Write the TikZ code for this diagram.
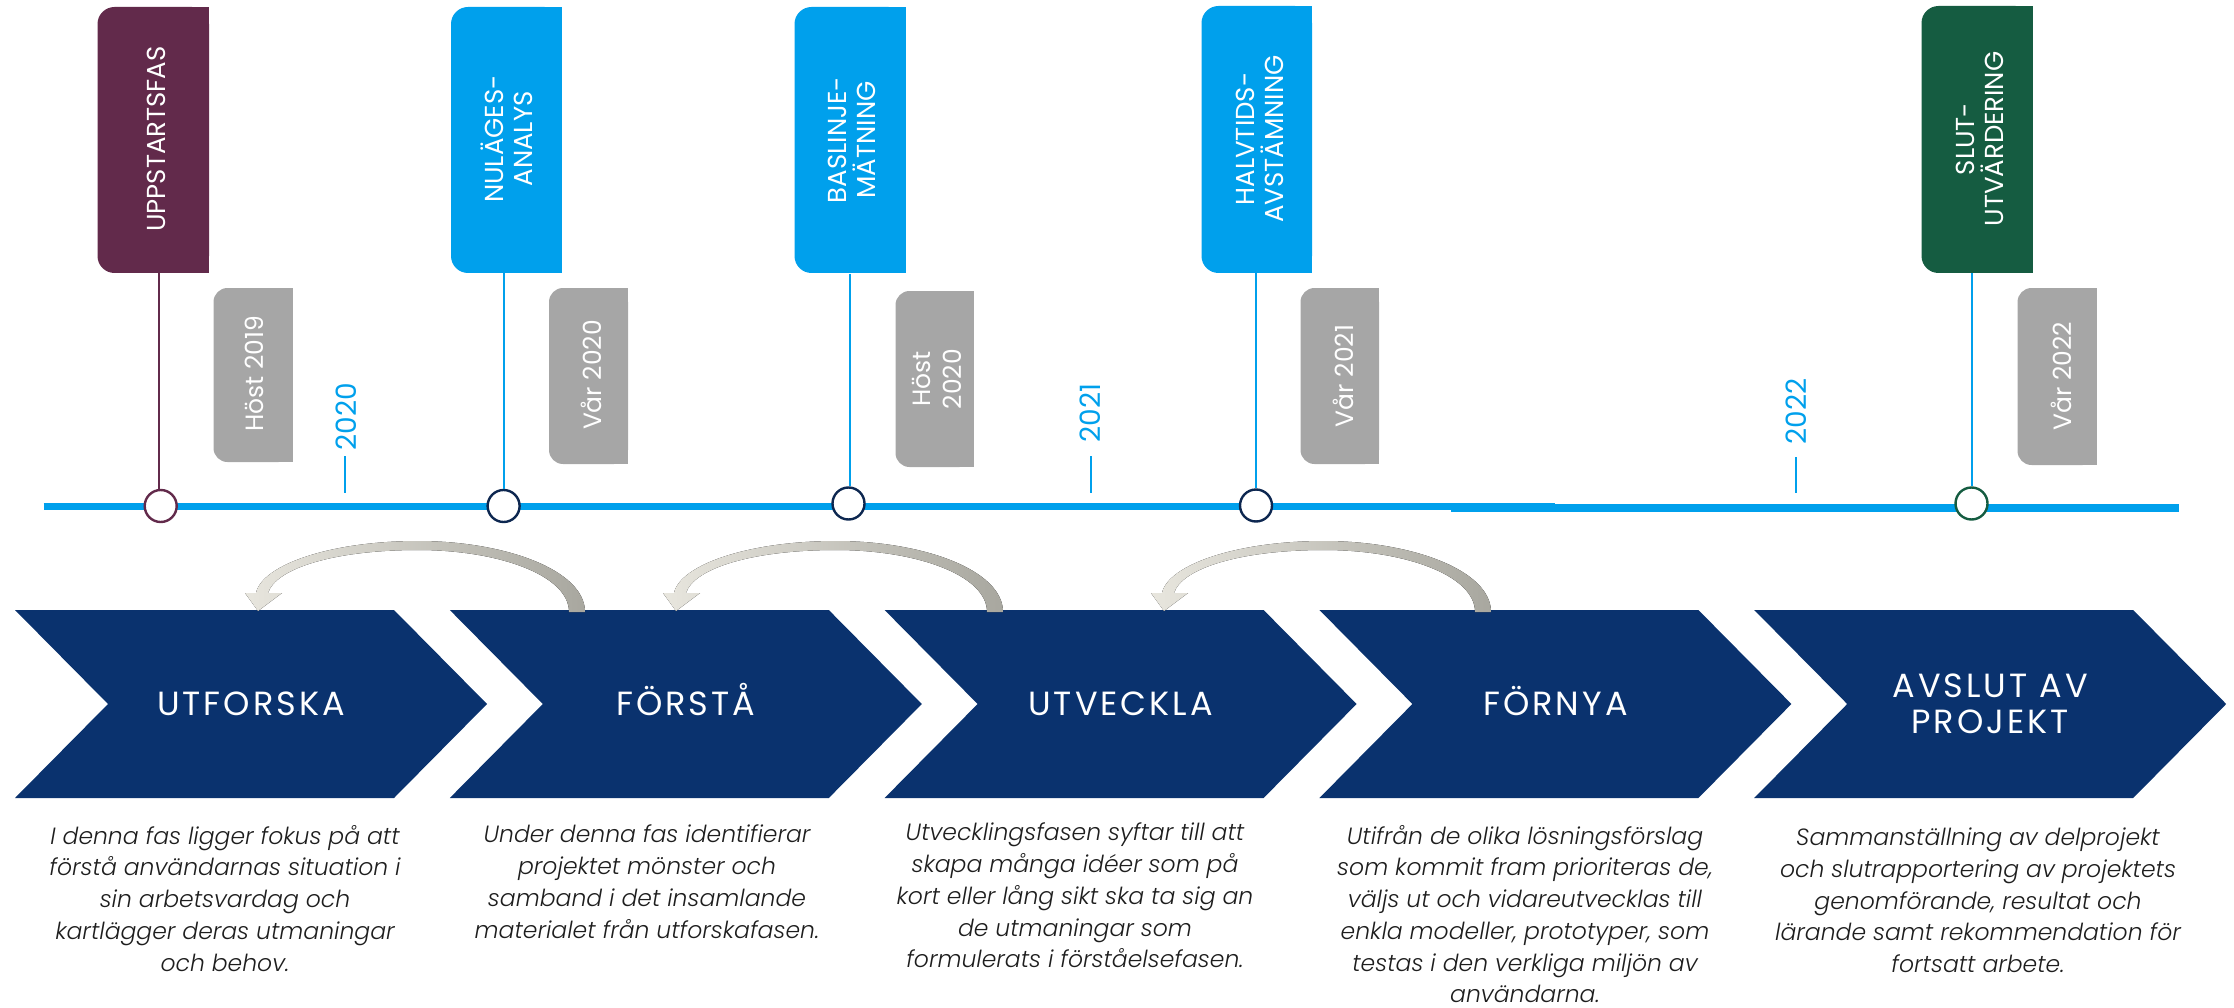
\documentclass[tikz,border=0pt]{standalone}
\usepackage{fontspec}
\setmainfont{Poppins}
\newfontfamily\phasefont{Poppins}[LetterSpace=9]
\newfontfamily\descfont{Poppins}[UprightFont=* Light, ItalicFont=* Light Italic]
\usetikzlibrary{calc}

\definecolor{plum}{HTML}{622A4B}
\definecolor{sky}{HTML}{00A0EC}
\definecolor{forest}{HTML}{155C41}
\definecolor{navy}{HTML}{0A326E}
\definecolor{ring}{HTML}{0D2750}
\definecolor{stone}{HTML}{A6A6A6}
\definecolor{ink}{HTML}{1E1E1E}
\definecolor{arclight}{HTML}{E8E6DE}
\definecolor{arcdark}{HTML}{A8A79F}

% tab with rounded left corners and square right corners
\newcommand\tabbox[6]{%
  \fill[#5,rounded corners=#6pt] (#1,#2) rectangle (#3,#4);
  \fill[#5] ({(#1+#3)/2},#2) rectangle (#3,#4);}

% chevron body starting at left edge x
\newcommand\chevronat[1]{%
  \fill[navy] (#1,610) -- ++(379,0) -- ++(93,94) -- ++(-93,94) -- ++(-379,0) -- ++(93,-94) -- cycle;}

% curved return arrow, shifted horizontally
\newcommand\returnarc[1]{%
  \begin{scope}[xshift=#1pt]
    \fill[left color=arclight, middle color=arclight!85!arcdark, right color=arcdark]
      (585,612) .. controls (585,570) and (505,541) .. (418,541)
      .. controls (330,541) and (262,565) .. (256,593)
      -- (245,593) -- (258,611) -- (282,593) -- (268,593)
      .. controls (276,568) and (335,550) .. (418,550)
      .. controls (498,550) and (569,575) .. (569,612) -- cycle;
  \end{scope}}

\begin{document}
\begin{tikzpicture}[x=1pt,y=-1pt,
  flagtext/.style={text=white, font=\fontsize{26}{29}\selectfont, align=center, rotate=90, inner sep=0pt},
  datetext/.style={text=white, font=\fontsize{25}{31.5}\selectfont, align=center, rotate=90, inner sep=0pt},
  yeartext/.style={text=sky, font=\fontsize{28}{30}\selectfont, rotate=90, inner sep=0pt},
  tick/.style={draw=sky, line width=2pt},
  phase/.style={text=white, font=\phasefont\fontsize{33.5}{36}\selectfont, align=center, inner sep=0pt},
  capline/.style={phase, text height=23.3pt, text depth=0pt},
  desc/.style={text=ink, font=\descfont\fontsize{23.5}{31.7}\selectfont\itshape, align=center, inner sep=0pt, anchor=north},
  milestone/.style={circle, fill=white, line width=2.4pt, minimum size=32pt, inner sep=0pt},
  stem/.style={line width=2pt},
  timeline/.style={draw=sky, line width=7.6pt}]

\useasboundingbox (0,0) rectangle (2234,1008);

% ---------- timeline ----------
\coordinate (tlA) at (43.7,506.5);
\coordinate (tlB) at (1555,506.5);
\coordinate (tlC) at (1450.7,507.8);
\coordinate (tlD) at (2178.5,507.8);
\draw[timeline] (tlA) -- (tlB);
\draw[timeline] (tlC) -- (tlD);

% ---------- milestone flags ----------
\tabbox{97.5}{7}{209}{273}{plum}{17}
\tabbox{451}{7}{561.5}{273}{sky}{17}
\tabbox{794.5}{7}{905.5}{273}{sky}{17}
\tabbox{1201.5}{6}{1312}{273}{sky}{17}
\tabbox{1921.5}{6}{2032.5}{273}{forest}{17}

\node[flagtext] (f1) at (156,139) {UPPSTARTSFAS};
\node[flagtext] (f2) at (507,139) {NULÄGES-\\ANALYS};
\node[flagtext] (f3) at (851.5,140) {BASLINJE-\\MÄTNING};
\node[flagtext] (f4) at (1260,139) {HALVTIDS-\\AVSTÄMNING};
\node[flagtext] (f5) at (1979.5,139) {SLUT-\\UTVÄRDERING};

\coordinate (f1b) at (159,273);
\coordinate (f2b) at (503.6,273);
\coordinate (f3b) at (849.5,274);
\coordinate (f4b) at (1256,273);
\coordinate (f5b) at (1971.5,273);

% ---------- dates ----------
\tabbox{213.5}{288}{292.5}{462}{stone}{14}
\tabbox{549}{288}{628}{464}{stone}{14}
\tabbox{895.5}{291}{973.5}{467}{stone}{14}
\tabbox{1300.5}{288}{1379}{464}{stone}{14}
\tabbox{2017.5}{288}{2096.5}{465}{stone}{14}

\node[datetext] (h19) at (254,374) {Höst 2019};
\node[datetext] (v20) at (591,375) {Vår 2020};
\node[datetext] (h20) at (937,379) {Höst\\2020};
\node[datetext] (v21) at (1343,376) {Vår 2021};
\node[datetext] (v22) at (2061,376) {Vår 2022};

% ---------- year marks ----------
\node[yeartext] (y20) at (346,416.5) {2020};
\node[yeartext] (y21) at (1090.5,413) {2021};
\node[yeartext] (y22) at (1796.5,411.5) {2022};
\draw[tick] ([shift={(-1.4,0)}]y20.west |- 0,456) -- ++(0,37);
\draw[tick] ([shift={(0.5,0)}]y21.west |- 0,456) -- ++(0,37);
\draw[tick] ([shift={(-0.5,0)}]y22.west |- 0,457) -- ++(0,36);

% ---------- milestones ----------
\node[milestone, draw=plum] (m1) at (160.7,506) {};
\node[milestone, draw=ring] (m2) at (503.6,506) {};
\node[milestone, draw=ring] (m3) at (848.5,503.5) {};
\node[milestone, draw=ring] (m4) at (1256,505.5) {};
\node[milestone, draw=forest] (m5) at (1971.5,503.5) {};

\draw[stem, plum] (f1b) -- (f1b |- m1.north);
\draw[stem, sky] (f2b) -- (f2b |- m2.north);
\draw[stem, sky] (f3b) -- (f3b |- m3.north);
\draw[stem, sky] (f4b) -- (f4b |- m4.north);
\draw[stem, sky] (f5b) -- (f5b |- m5.north);

% ---------- phases ----------
\chevronat{15}
\chevronat{449.8}
\chevronat{884.6}
\chevronat{1319.4}
\chevronat{1754.2}

\node[capline] (c1) at (251,704) {UTFORSKA};
\node[capline] (c2) at (685.8,704) {FÖRSTÅ};
\node[capline] (c3) at (1120.6,704) {UTVECKLA};
\node[capline] (c4) at (1555.4,704) {FÖRNYA};
\node[phase] (c5) at (1990.2,704) {AVSLUT AV\\PROJEKT};

% return arrows between phases
\returnarc{0}
\returnarc{418}
\returnarc{906}

% ---------- descriptions ----------
\node[desc] (d1) at (225,825) {I denna fas ligger fokus på att\\förstå användarnas situation i\\sin arbetsvardag och\\kartlägger deras utmaningar\\och behov.};
\node[desc] (d2) at (647,825) {Under denna fas identifierar\\projektet mönster och\\samband i det insamlande\\materialet från utforskafasen.};
\node[desc] (d3) at (1075,823) {Utvecklingsfasen syftar till att\\skapa många idéer som på\\kort eller lång sikt ska ta sig an\\de utmaningar som\\formulerats i förståelsefasen.};
\node[desc] (d4) at (1525,825) {Utifrån de olika lösningsförslag\\som kommit fram prioriteras de,\\väljs ut och vidareutvecklas till\\enkla modeller, prototyper, som\\testas i den verkliga miljön av\\användarna.};
\node[desc] (d5) at (1978,828) {Sammanställning av delprojekt\\och slutrapportering av projektets\\genomförande, resultat och\\lärande samt rekommendation för\\fortsatt arbete.};

\end{tikzpicture}
\end{document}
